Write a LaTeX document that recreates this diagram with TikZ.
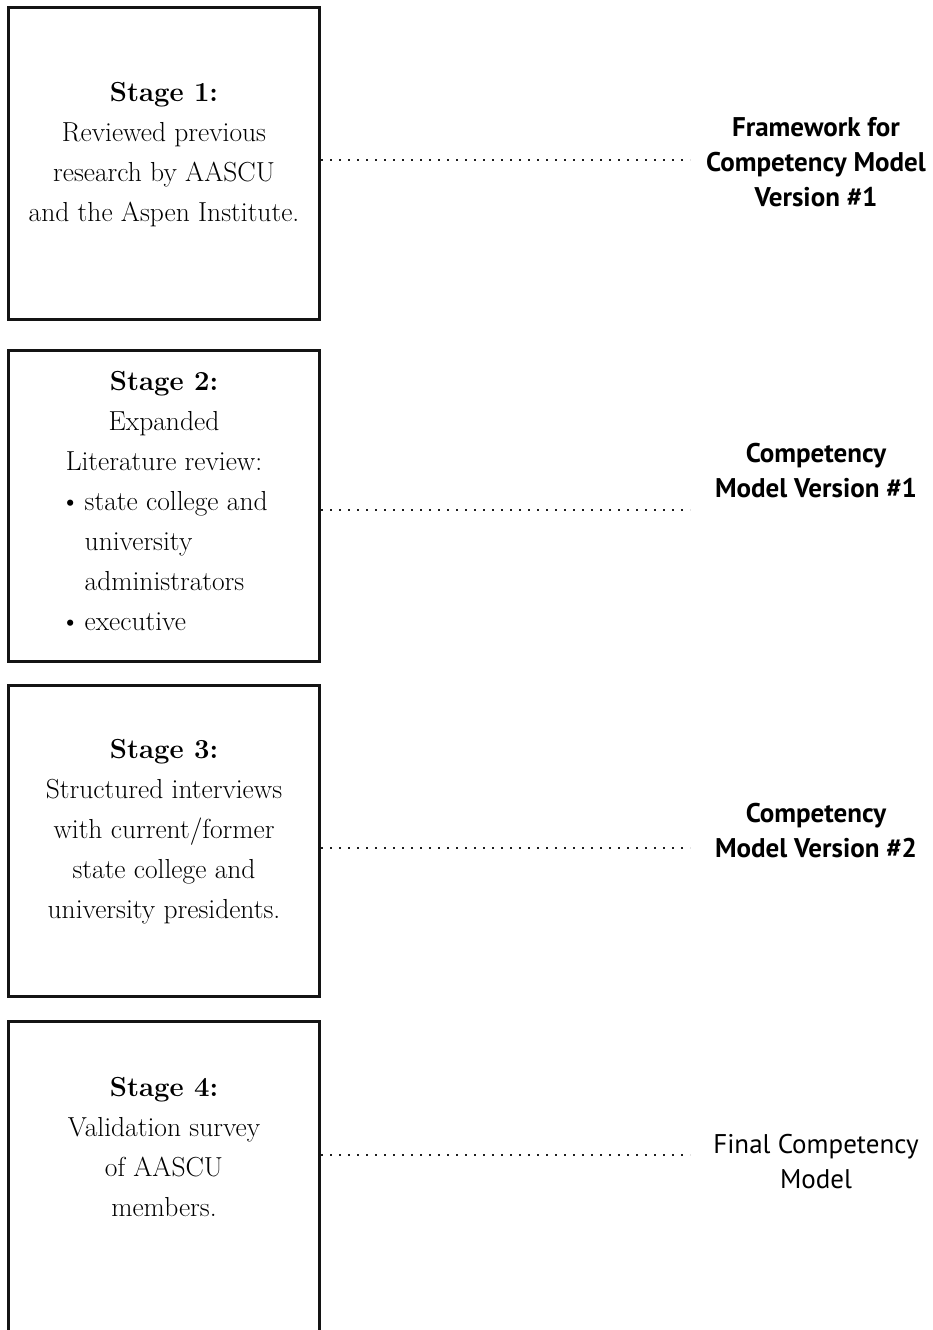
\documentclass[tikz,border=0pt]{standalone}
\usepackage{fontspec}
\newfontfamily\labelfont{PT Sans}
\usetikzlibrary{positioning,calc}
\definecolor{boxC}{RGB}{20,20,20}
\definecolor{dotC}{RGB}{30,30,30}
\tikzset{
	stagebox/.style={draw=boxC, line width=3pt, minimum width=311pt,
		minimum height=311pt, inner sep=0pt},
	stagetext/.style={align=center, inner sep=0pt,
		font=\fontsize{27.5}{40}\selectfont},
	modeltext/.style={align=center, inner sep=0pt,
		font=\labelfont\bfseries\fontsize{27}{35}\selectfont},
	link/.style={dotC, line width=2pt, dash pattern=on 2pt off 7pt},
}

\begin{document}
\begin{tikzpicture}[x=1pt, y=-1pt]
		\useasboundingbox (0,0) rectangle (933,1330);
		
		% =============== STAGE BOXES ===============
		\node[stagebox] (stage1) at (164,163.5) {};
		\node[stagebox] (stage2) at (164,505.5) {};
		\node[stagebox] (stage3) at (164,841) {};
		\node[stagebox] (stage4) at (164,1176.5) {};
		
		% =============== STAGE TEXTS ===============
		\node[stagetext] (txt1) at (164,155)
		{\textbf{Stage 1:}\\Reviewed previous\\research by AASCU\\and the Aspen Institute.};
		
		\node[stagetext] (txt2) at (164,507)
		{\textbf{Stage 2:}\\Expanded\\Literature review:\\
			\begin{tabular}[t]{@{}l@{}}
				\textbullet\,state college and\\
				\hphantom{\textbullet\,}university\\
				\hphantom{\textbullet\,}administrators\\
				\textbullet\,executive
			\end{tabular}};
		
		\node[stagetext] (txt3) at (164,832)
		{\textbf{Stage 3:}\\Structured interviews\\with current/former\\state college and\\university presidents.};
		
		\node[stagetext] (txt4) at (164,1147)
		{\textbf{Stage 4:}\\Validation survey\\of AASCU\\members.};
		
		% =============== MODEL VERSIONS (right) ===============
		\node[modeltext] (model1) at (816,162)
		{Framework for\\Competency Model\\Version \#1};
		\node[modeltext] (model2) at (816,471)
		{Competency\\Model Version \#1};
		\node[modeltext] (model3) at (816,831)
		{Competency\\Model Version \#2};
		\node[modeltext, font=\labelfont\fontsize{27}{35}\selectfont] (model4) at (816,1162)
		{Final Competency\\Model};
		
		% =============== DOTTED LINKS ===============
		\coordinate (end1) at (690,160);
		\coordinate (end2) at (690,510);
		\coordinate (end3) at (690,848);
		\coordinate (end4) at (690,1155);
		
		\draw[link] (stage1.east |- end1) -- (end1);
		\draw[link] (stage2.east |- end2) -- (end2);
		\draw[link] (stage3.east |- end3) -- (end3);
		\draw[link] (stage4.east |- end4) -- (end4);
		
	\end{tikzpicture}
\end{document}
